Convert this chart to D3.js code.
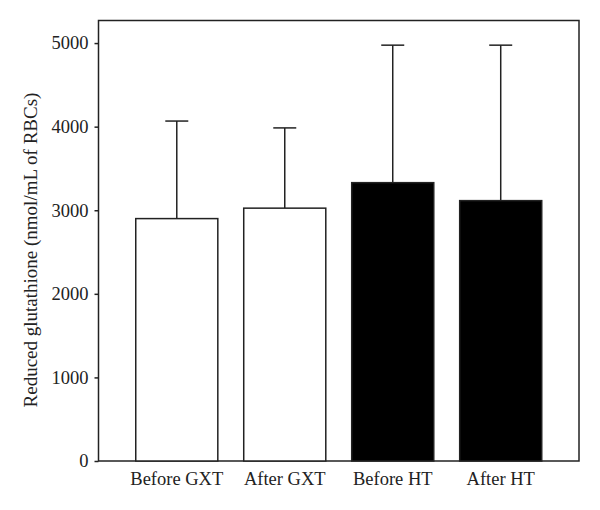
<!DOCTYPE html>
<html>
<head>
<meta charset="utf-8">
<script src="https://cdn.jsdelivr.net/npm/d3@7"></script>
<style>
  body { margin: 0; background: #fff; }
  svg text { font-family: "Liberation Serif", "DejaVu Serif", serif; fill: #222; }
</style>
</head>
<body>
<div id="chart"></div>
<script>
// values
const groups = ["Before GXT", "After GXT", "Before HT", "After HT"];
const means = [2900, 3025, 3330, 3115];
const upperSD = [4067, 3985, 4975, 4975];
const fills = ["#ffffff", "#ffffff", "#000000", "#000000"];
const yTicks = [0, 1000, 2000, 3000, 4000, 5000];

const w = 600, h = 510;
const padL = 98.5, padR = 579, padT = 20.5, padB = 461;
const ink = "#222";

const svg = d3.select("#chart").append("svg")
    .attr("width", w)
    .attr("height", h);

const xScale = d3.scaleBand()
    .domain(groups)
    .range([padL, padR])
    .paddingInner(0.24)
    .paddingOuter(0.345);

const yScale = d3.scaleLinear()
    .domain([0, 5270])
    .range([padB, padT]);

// frame
svg.append("rect")
    .attr("x", padL).attr("y", padT)
    .attr("width", padR - padL).attr("height", padB - padT)
    .attr("fill", "none")
    .attr("stroke", ink)
    .attr("stroke-width", 1.5);

// y axis
const yAxis = svg.append("g")
    .attr("transform", "translate(" + padL + ",0)")
    .call(d3.axisLeft(yScale).tickValues(yTicks).tickSize(4).tickPadding(6).tickFormat(d3.format("d")));
yAxis.select(".domain").remove();
yAxis.selectAll("line").attr("stroke", ink).attr("stroke-width", 1.5);
yAxis.selectAll("text")
    .attr("font-size", "18.5px")
    .attr("fill", ink)
    .style("font-family", "'Liberation Serif', serif");

// x axis labels
const xAxis = svg.append("g")
    .attr("transform", "translate(0," + padB + ")")
    .call(d3.axisBottom(xScale).tickSize(0).tickPadding(11));
xAxis.select(".domain").remove();
xAxis.selectAll("text")
    .attr("font-size", "18.5px")
    .attr("fill", ink)
    .style("font-family", "'Liberation Serif', serif");

// error bars (upper only)
const err = svg.append("g");
groups.forEach((g, i) => {
    const cx = xScale(g) + xScale.bandwidth() / 2;
    err.append("line")
        .attr("x1", cx).attr("x2", cx)
        .attr("y1", yScale(means[i])).attr("y2", yScale(upperSD[i]))
        .attr("stroke", ink).attr("stroke-width", 1.5);
    err.append("line")
        .attr("x1", cx - 11.5).attr("x2", cx + 11.5)
        .attr("y1", yScale(upperSD[i])).attr("y2", yScale(upperSD[i]))
        .attr("stroke", ink).attr("stroke-width", 1.5);
});

// bars
svg.selectAll(".bar")
    .data(groups)
    .enter()
    .append("rect")
    .attr("class", "bar")
    .attr("x", (d) => xScale(d))
    .attr("y", (d, i) => yScale(means[i]))
    .attr("width", xScale.bandwidth())
    .attr("height", (d, i) => yScale(0) - yScale(means[i]))
    .attr("fill", (d, i) => fills[i])
    .attr("stroke", ink)
    .attr("stroke-width", 1.5);

// y label
svg.append("text")
    .attr("transform", "translate(37," + 250 + ") rotate(-90)")
    .attr("text-anchor", "middle")
    .attr("font-size", "19px")
    .text("Reduced glutathione (nmol/mL of RBCs)");
</script>
</body>
</html>
